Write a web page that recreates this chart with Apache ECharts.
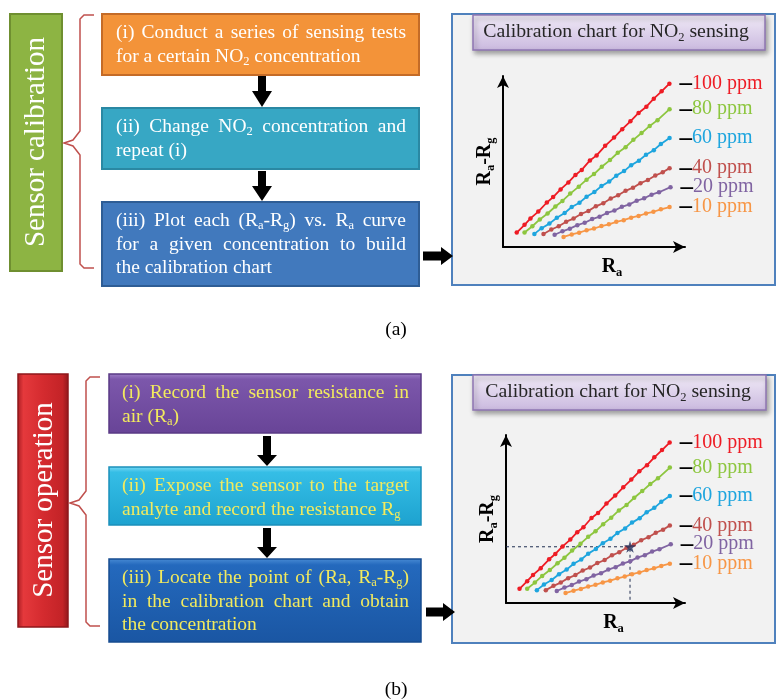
<!DOCTYPE html>
<html><head><meta charset="utf-8">
<script src="https://cdn.jsdelivr.net/npm/echarts@6/dist/echarts.min.js"></script>
<style>html,body{margin:0;padding:0;background:#fff}#c{width:777px;height:700px}</style>
</head><body><div id="c"></div>
<script>
// ---------- data ----------
const concLabels = ['100 ppm', '80 ppm', '60 ppm', '40 ppm', '20 ppm', '10 ppm'];
const d100 = [[7.4,8.3],[11.6,12.7],[14.8,16.4],[19.0,20.3],[23.6,25.5],[27.0,28.6],[31.0,33.0],[35.2,37.0],[39.0,41.3],[42.4,44.2],[46.8,49.6],[50.4,52.5],[55.0,58.0],[59.8,62.7],[64.2,67.5],[68.6,72.0],[73.0,76.8],[77.2,80.4],[81.2,85.0],[85.4,89.2],[89.6,93.6]];
const d80 = [[11.6,8.3],[15.8,11.9],[19.8,15.8],[24.0,19.2],[28.2,23.2],[32.0,26.4],[36.2,30.6],[40.8,34.6],[45.0,38.6],[49.0,41.8],[53.2,46.0],[57.6,49.8],[61.8,54.0],[66.0,57.2],[70.2,61.4],[74.6,65.3],[79.0,69.4],[83.2,72.7],[89.7,79.0]];
const d60 = [[16.9,7.5],[20.8,10.8],[25.0,13.4],[29.0,16.8],[33.2,19.5],[37.0,22.9],[41.2,25.4],[45.0,28.8],[49.2,31.5],[53.0,34.9],[57.2,37.5],[61.0,40.9],[65.2,43.5],[69.0,46.9],[73.2,49.5],[77.0,52.9],[81.2,55.5],[85.0,59.0],[89.7,62.4]];
const d40 = [[21.8,7.5],[26.0,10.0],[30.0,11.9],[34.0,14.5],[38.0,16.3],[42.0,18.9],[46.0,20.7],[50.0,23.3],[54.0,25.1],[58.0,27.8],[62.0,29.6],[66.0,32.2],[70.0,34.0],[74.0,36.6],[78.0,38.4],[82.0,41.0],[86.0,42.8],[89.7,45.2]];
const d20 = [[27.8,7.0],[32.0,9.0],[36.0,10.5],[40.0,12.5],[44.0,13.9],[48.0,16.0],[52.0,17.4],[56.0,19.5],[60.0,20.9],[64.0,23.0],[68.0,24.4],[72.0,26.5],[76.0,27.9],[80.0,30.0],[84.0,31.4],[90.2,34.3]];
const d10 = [[32.6,5.8],[37.0,7.2],[41.0,8.2],[45.0,9.6],[49.0,10.6],[53.0,12.0],[57.0,13.0],[61.0,14.4],[65.0,15.4],[69.0,16.8],[73.0,17.8],[77.0,19.2],[81.0,20.2],[85.0,21.6],[89.7,22.9]];
const seriesData = [d100, d80, d60, d40, d20, d10];
const readPoint = [67.9, 32.8];           // measured (Ra, Ra-Rg) in operation chart
const chartTitle = 'Calibration chart for NO_2 sensing';
const xName = 'R_a';
const yName = 'R_a-R_g';
const sideTitles = ['Sensor calibration', 'Sensor operation'];
const calSteps = [
  ['(i) Conduct a series of sensing tests', 'for a certain NO_2 concentration'],
  ['(ii) Change NO_2 concentration and', 'repeat (i)'],
  ['(iii) Plot each (R_a-R_g) vs. R_a curve', 'for a given concentration to build', 'the calibration chart']
];
const opSteps = [
  ['(i) Record the sensor resistance in', 'air (R_a)'],
  ['(ii) Expose the sensor to the target', 'analyte and record the resistance R_g'],
  ['(iii) Locate the point of (Ra, R_a-R_g)', 'in the calibration chart and obtain', 'the concentration']
];
const panelTags = ['(a)', '(b)'];

// ---------- styles ----------
const FF = 'Liberation Serif';
const lineColors = ['#EE1C25', '#8DC63F', '#1EA5DE', '#C0504D', '#8064A2', '#F79646'];

const cv = document.createElement('canvas').getContext('2d');
function tw(t, size, bold) { cv.font = (bold ? 'bold ' : '') + size + 'px ' + FF; return cv.measureText(t).width; }

function richLine(str, x, y, o) {
  const size = o.size || 19.5, sub = o.sub || 12.5, bold = !!o.bold;
  const lh = Math.round(size * 1.2);
  const words = str.split(' ').filter(Boolean);
  const toks = words.map(w => w.split(/_(.)/).map((p, i) => ({ t: p, s: i % 2 === 1 })).filter(p => p.t));
  let sum = 0;
  toks.forEach(ws => ws.forEach(p => { p.w = tw(p.t, p.s ? sub : size, bold); sum += p.w; }));
  let gap = tw(' ', size, bold);
  if (o.justify && words.length > 1) gap = (o.width - sum) / (words.length - 1);
  const text = toks.map(ws => ws.map(p => '{' + (p.s ? 's' : 'n') + '|' + p.t + '}').join('')).join('{g| }');
  const base = { fontFamily: FF, fontWeight: bold ? 'bold' : 'normal', fill: o.color, color: o.color };
  return {
    type: 'text', x: x, y: y, rotation: o.rotation || 0, z: 10, silent: true,
    style: {
      text: text, fill: o.color, fontFamily: FF, fontSize: size,
      align: o.align || 'left', verticalAlign: 'middle', textAlign: o.align || 'left', textVerticalAlign: 'middle',
      rich: {
        n: Object.assign({ fontSize: size, lineHeight: lh, verticalAlign: 'middle' }, base),
        s: Object.assign({ fontSize: sub, lineHeight: 10, verticalAlign: 'bottom' }, base),
        g: Object.assign({ fontSize: size, lineHeight: lh, width: gap }, base)
      }
    }
  };
}
function vgrad(stops) { return { type: 'linear', x: 0, y: 0, x2: 0, y2: 1, colorStops: stops.map(s => ({ offset: s[0], color: s[1] })) }; }
function hgrad(stops) { return { type: 'linear', x: 0, y: 0, x2: 1, y2: 0, colorStops: stops.map(s => ({ offset: s[0], color: s[1] })) }; }
function rect(x, y, w, h, fill, stroke, lw, z, extra) {
  return { type: 'rect', z: z || 1, silent: true, shape: { x: x, y: y, width: w, height: h }, style: Object.assign({ fill: fill, stroke: stroke, lineWidth: lw || 2 }, extra || {}) };
}
function downArrow(cx, y0, y1, y2) {
  return { type: 'polygon', z: 5, silent: true, shape: { points: [[cx - 4, y0], [cx + 4, y0], [cx + 4, y1], [cx + 10, y1], [cx, y2], [cx - 10, y1], [cx - 4, y1]] }, style: { fill: '#000' } };
}
function rightArrow(x0, x1, x2, cy) {
  return { type: 'polygon', z: 5, silent: true, shape: { points: [[x0, cy - 4.5], [x1, cy - 4.5], [x1, cy - 9], [x2, cy], [x1, cy + 9], [x1, cy + 4.5], [x0, cy + 4.5]] }, style: { fill: '#000' } };
}
function brace(xv, xh, xt, y0, ym, y1) {
  return { type: 'polyline', z: 5, silent: true, shape: { points: [[xh, y0], [xv + 4, y0], [xv, y0 + 4], [xv, ym - 12], [xv - 7, ym - 3], [xt, ym], [xv - 7, ym + 3], [xv, ym + 12], [xv, y1 - 4], [xv + 4, y1], [xh, y1]] }, style: { stroke: '#C0504D', lineWidth: 1.5, fill: null } };
}
function paragraph(lines, left, right, y0, dy, color, els) {
  lines.forEach((ln, i) => {
    const last = i === lines.length - 1;
    els.push(richLine(ln, left, y0 + i * dy, { color: color, justify: !last, width: right - left }));
  });
}

const g = [];
// ----- panel (a) -----
g.push(rect(10, 14, 52, 257, '#8DB443', '#6F8F30', 2));
g.push(richLine(sideTitles[0], 36, 142, { size: 29, sub: 18, color: '#fff', align: 'center', rotation: Math.PI / 2 }));
g.push(brace(80, 94, 64, 15, 143, 268));
g.push(rect(102, 14, 317, 61, '#F39339', '#C46B27', 2));
g.push(rect(102, 108, 317, 61, '#37A7C4', '#2A88A3', 2));
g.push(rect(102, 202, 317, 84, '#4179BD', '#2E5D95', 2));
paragraph(calSteps[0], 116, 406, 33, 23.5, '#FFFFFF', g);
paragraph(calSteps[1], 116, 406, 127, 23.5, '#FFFFFF', g);
paragraph(calSteps[2], 116, 406, 221, 23.5, '#FFFFFF', g);
g.push(downArrow(262, 76, 91, 107));
g.push(downArrow(262, 171, 186, 201));
g.push(rightArrow(423, 441, 453, 256));
g.push(rect(452, 14, 323, 271, '#F2F2F2', '#4F81BD', 2, -10));
g.push(rect(473, 15, 292, 35, vgrad([[0, '#F1EBF7'], [1, '#CAB9DF']]), '#8E76B2', 1.5, 4, { shadowBlur: 5, shadowOffsetX: 2, shadowOffsetY: 3, shadowColor: 'rgba(0,0,0,0.35)' }));
g.push(richLine(chartTitle, 616, 32, { size: 19.8, color: '#262626', align: 'center' }));
g.push(richLine(panelTags[0], 396, 330, { color: '#000', align: 'center' }));

// ----- panel (b) -----
g.push(rect(18, 374, 50, 253, hgrad([[0, '#A81C22'], [0.12, '#E5393C'], [0.5, '#D42B2F'], [0.88, '#C32327'], [1, '#8E171B']]), '#8E171B', 1.5));
g.push(richLine(sideTitles[1], 44, 500, { size: 29, sub: 18, color: '#fff', align: 'center', rotation: Math.PI / 2 }));
g.push(brace(86, 100, 70, 377, 503, 626));
g.push(rect(109, 374, 312, 59, vgrad([[0, '#9F80C8'], [0.1, '#7C57AB'], [1, '#684497']]), '#5A3A85', 1.5));
g.push(rect(109, 467, 312, 58, vgrad([[0, '#7DDAF5'], [0.1, '#35BEE6'], [1, '#1DA2CF']]), '#1B90BA', 1.5));
g.push(rect(109, 559, 312, 83, vgrad([[0, '#4A8DD6'], [0.08, '#2469BD'], [1, '#1A56A3']]), '#174C90', 1.5));
paragraph(opSteps[0], 122, 409, 393, 23.5, '#F2EA5E', g);
paragraph(opSteps[1], 122, 409, 486, 23.5, '#F2EA5E', g);
paragraph(opSteps[2], 122, 409, 578, 23.5, '#F2EA5E', g);
g.push(downArrow(267, 436, 455, 466));
g.push(downArrow(267, 528, 547, 558));
g.push(rightArrow(426, 443, 455, 612));
g.push(rect(452, 375, 323, 268, '#F2F2F2', '#4F81BD', 2, -10));
g.push(rect(473, 375, 293, 35, vgrad([[0, '#F1EBF7'], [1, '#CAB9DF']]), '#8E76B2', 1.5, 4, { shadowBlur: 5, shadowOffsetX: 2, shadowOffsetY: 3, shadowColor: 'rgba(0,0,0,0.35)' }));
g.push(richLine(chartTitle, 618, 392, { size: 19.8, color: '#262626', align: 'center' }));
g.push(richLine(panelTags[1], 396, 690, { color: '#000', align: 'center' }));

// ----- chart axes -----
function richName(s) { return s.split(/_(.)/).map((p, i) => p ? '{' + (i % 2 ? 's' : 'b') + '|' + p + '}' : '').join(''); }
const nameRich = {
  b: { fontFamily: FF, fontWeight: 'bold', fontSize: 20, lineHeight: 24, color: '#000' },
  s: { fontFamily: FF, fontWeight: 'bold', fontSize: 12.5, lineHeight: 10, verticalAlign: 'bottom', color: '#000' }
};
const axisCommon = {
  type: 'value', min: 0, max: 98,
  axisLine: { show: true, onZero: false, symbol: ['none', 'arrow'], symbolSize: [9, 12], lineStyle: { color: '#000', width: 2 } },
  axisTick: { show: false }, axisLabel: { show: false }, splitLine: { show: false }
};
function xAx(gi) { return Object.assign({}, axisCommon, { gridIndex: gi, name: richName(xName), nameLocation: 'middle', nameGap: 8, nameTextStyle: { rich: nameRich, padding: [0, 0, 0, 36] } }); }
function yAx(gi) { return Object.assign({}, axisCommon, { gridIndex: gi, name: richName(yName), nameLocation: 'middle', nameGap: 6, nameTextStyle: { rich: nameRich } }); }

const series = [];
[0, 1].forEach(gi => {
  seriesData.forEach((d, i) => {
    series.push({
      type: 'line', xAxisIndex: gi, yAxisIndex: gi, data: d, z: 3,
      symbol: 'circle', symbolSize: 4.5, showSymbol: true, silent: true,
      lineStyle: { color: lineColors[i], width: 1.8 }, itemStyle: { color: lineColors[i] },
      endLabel: {
        show: true, distance: 10, formatter: '{d|–}{t|' + concLabels[i] + '}',
        rich: {
          d: { color: '#000', fontSize: 25, fontWeight: 'bold', fontFamily: FF },
          t: { color: lineColors[i], fontSize: 20, fontFamily: FF }
        }
      }
    });
  });
});
series.push({
  type: 'line', xAxisIndex: 1, yAxisIndex: 1, z: 2, silent: true, symbol: 'none',
  data: [[0, readPoint[1]], readPoint, [readPoint[0], 0]],
  lineStyle: { color: '#1F2D4F', width: 1, type: [3, 3] }
});
series.push({
  type: 'scatter', xAxisIndex: 1, yAxisIndex: 1, z: 5, silent: true,
  symbol: 'path://M12,0 L14.8,8.6 L24,8.6 L16.6,14 L19.4,22.8 L12,17.4 L4.6,22.8 L7.4,14 L0,8.6 L9.2,8.6 Z',
  symbolSize: 12, itemStyle: { color: '#1F2D5A' }, data: [readPoint]
});

const chart = echarts.init(document.getElementById('c'), null, { renderer: 'canvas' });
chart.setOption({
  animation: false,
  backgroundColor: '#fff',
  grid: [
    { left: 503, top: 76, width: 182, height: 171 },
    { left: 506, top: 435, width: 179, height: 168 }
  ],
  xAxis: [xAx(0), xAx(1)],
  yAxis: [yAx(0), yAx(1)],
  graphic: { elements: g },
  series: series
});
</script></body></html>
